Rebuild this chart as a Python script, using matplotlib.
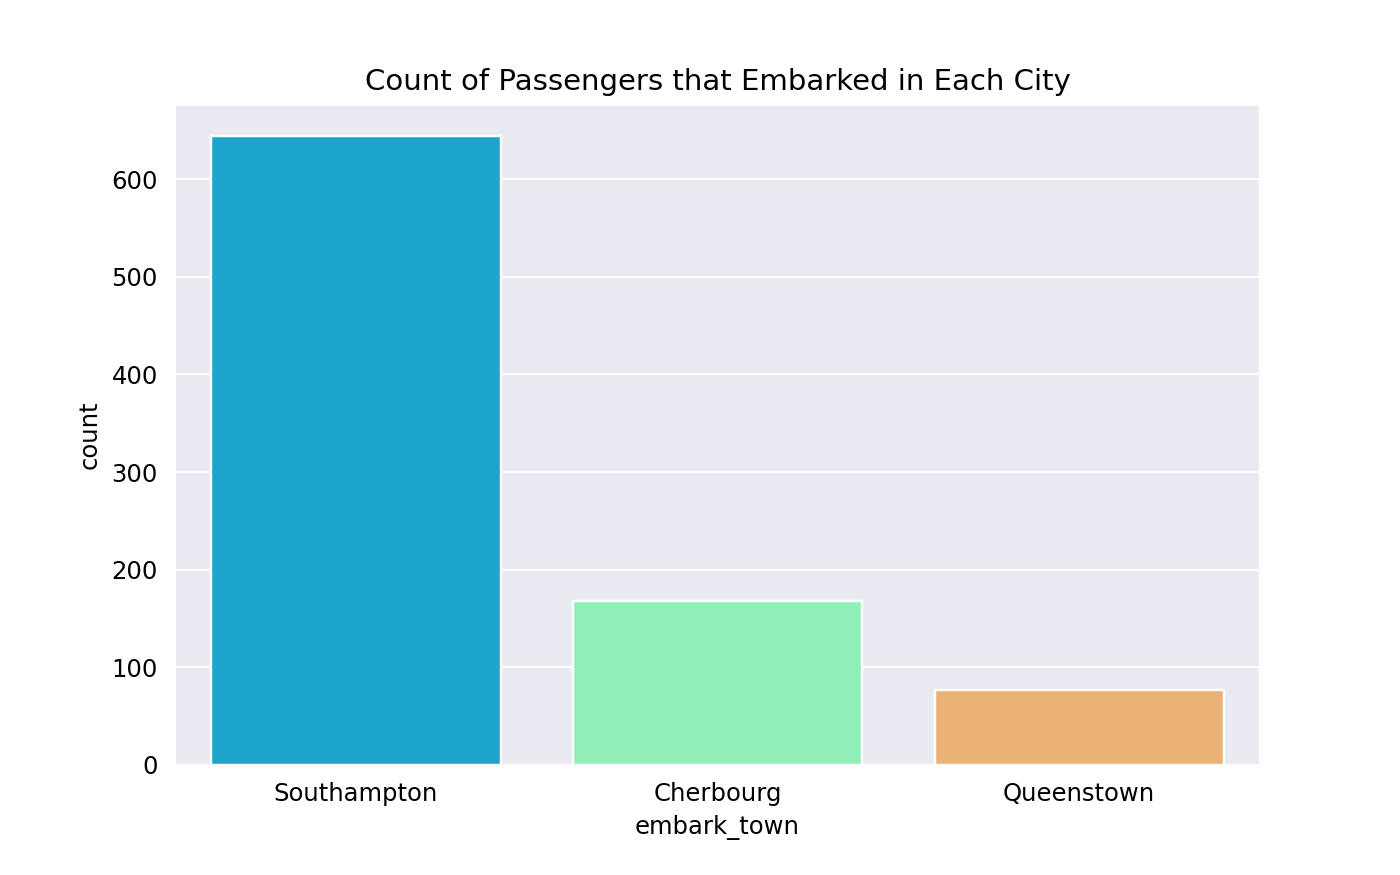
import matplotlib
matplotlib.use("Agg")
import matplotlib.pyplot as plt
import seaborn as sns

# ====== Data ======
towns = ["Southampton", "Cherbourg", "Queenstown"]
counts = [644, 168, 77]
bar_colors = ["#1ea5cd", "#8fefb7", "#ebb275"]

sns.set_style("darkgrid")
plt.rcParams['font.family'] = ['DejaVu Sans']
plt.rcParams['text.color'] = 'black'
plt.rcParams['axes.labelcolor'] = 'black'
plt.rcParams['xtick.color'] = 'black'
plt.rcParams['ytick.color'] = 'black'

fig, ax = plt.subplots(figsize=(8, 5), dpi=175)
fig.subplots_adjust(left=0.125, right=0.9, top=0.88, bottom=0.126)

sns.barplot(x=towns, y=counts, hue=towns, palette=bar_colors, saturation=1,
            edgecolor="white", linewidth=1, legend=False, ax=ax)

ax.set_xlabel("embark_town")
ax.set_ylabel("count")
ax.set_title("Count of Passengers that Embarked in Each City")

plt.savefig("out.png", dpi=175)
plt.close()
